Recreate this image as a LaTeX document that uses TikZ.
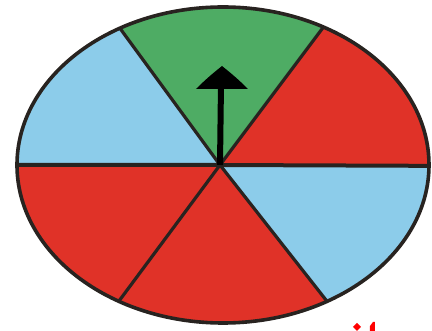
\documentclass[tikz,border=0pt]{standalone}
\definecolor{spinred}{RGB}{224,50,40}
\definecolor{spinblue}{RGB}{140,204,234}
\definecolor{spingreen}{RGB}{78,172,100}
\definecolor{spinline}{RGB}{40,35,32}
\tikzset{
  spoke/.style={draw=spinline, line width=0.8mm},
  rim/.style={draw=spinline, line width=0.9mm},
  redmark/.style={fill=red, draw=none}
}
\begin{document}
\begin{tikzpicture}[x=0.25mm, y=-0.25mm]
\useasboundingbox (0,0) rectangle (432,331);
\coordinate (hub) at (220,165);
\coordinate (A) at (70,-40);
\coordinate (B) at (370,-35);
\coordinate (R) at (470,166);
\coordinate (C) at (377,365);
\coordinate (D) at (70,367);
\coordinate (L) at (-30,165);
\begin{scope}
  \clip (223,165) ellipse [x radius=206, y radius=158];
  \fill[spingreen] (hub) -- (A) -- (B) -- cycle;
  \fill[spinred] (hub) -- (B) -- (470,-40) -- (R) -- cycle;
  \fill[spinblue] (hub) -- (R) -- (470,370) -- (C) -- cycle;
  \fill[spinred] (hub) -- (C) -- (D) -- cycle;
  \fill[spinred] (hub) -- (D) -- (-30,370) -- (L) -- cycle;
  \fill[spinblue] (hub) -- (L) -- (-30,-40) -- (A) -- cycle;
  \draw[spoke] (hub) -- (A);
  \draw[spoke] (hub) -- (B);
  \draw[spoke] (hub) -- (C);
  \draw[spoke] (hub) -- (D);
  \draw[spoke, line width=1mm] (L) -- (hub) -- (R);
\end{scope}
\draw[rim] (223,165) ellipse [x radius=206, y radius=158];
% pointer
\coordinate (tip) at (222,66);
\draw[line width=1.5mm, draw=black] (hub) -- (221,84);
\fill[black] (196,89) .. controls (205,80) and (212,74) .. (tip) .. controls (232,74) and (239,80) .. (248,89) -- cycle;
% red marks at the bottom edge
\fill[redmark] (357,323) -- (361,327) -- (357,331) -- (353,327) -- cycle;
\fill[redmark] (370,331) -- (370,326) -- (373,322) -- (375,322) -- (375,331) -- cycle;
\end{tikzpicture}
\end{document}
